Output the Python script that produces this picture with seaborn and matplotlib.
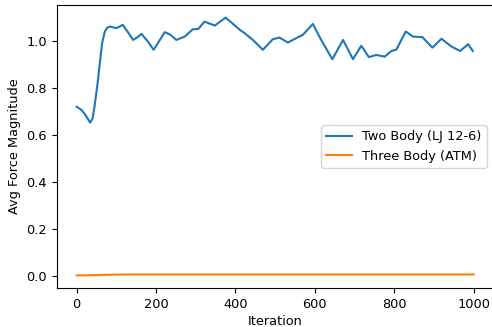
import matplotlib
matplotlib.use("Agg")
import matplotlib.pyplot as plt
import seaborn as sns
import pandas as pd

iters_two = [0, 12, 22, 34, 40, 45, 52, 58, 64, 71, 77, 83, 100, 116, 130, 142, 153, 163, 178, 194, 208, 222, 237, 251, 272, 293, 306, 322, 348, 375, 392, 411, 423, 444, 469, 494, 511, 532, 570, 595, 616, 644, 671, 696, 717, 736, 755, 776, 793, 805, 829, 847, 871, 896, 919, 944, 966, 986, 998]
vals_two = [0.72, 0.706, 0.685, 0.652, 0.67, 0.72, 0.81, 0.90, 0.99, 1.040, 1.056, 1.061, 1.054, 1.068, 1.035, 1.004, 1.015, 1.03, 1.0, 0.962, 1.0, 1.037, 1.025, 1.004, 1.018, 1.05, 1.05, 1.082, 1.065, 1.099, 1.075, 1.047, 1.033, 1.004, 0.962, 1.007, 1.014, 0.993, 1.026, 1.072, 1.004, 0.922, 1.004, 0.922, 0.979, 0.931, 0.94, 0.933, 0.957, 0.962, 1.04, 1.018, 1.016, 0.971, 1.009, 0.976, 0.957, 0.986, 0.957]

iters_three = [0, 40, 80, 120, 200, 400, 600, 800, 1000]
vals_three = [0.002, 0.003, 0.005, 0.006, 0.006, 0.006, 0.006, 0.006, 0.006]

labels = ["Two Body (LJ 12-6)", "Three Body (ATM)"]

df = pd.concat([
    pd.DataFrame({"Iteration": iters_two, "Value": vals_two, "Series": labels[0]}),
    pd.DataFrame({"Iteration": iters_three, "Value": vals_three, "Series": labels[1]}),
])

plt.rcParams["font.size"] = 9.3

fig, ax = plt.subplots(figsize=(4.92, 3.27), dpi=100)
sns.lineplot(data=df, x="Iteration", y="Value", hue="Series",
             palette=["#1f77b4", "#ff7f0e"], ax=ax, linewidth=1.5)
ax.set_xlabel("Iteration", labelpad=3)
ax.set_ylabel("Avg Force Magnitude")
ax.legend(title=None, loc="center right")
fig.subplots_adjust(left=0.1155, right=1.003, top=0.9856, bottom=0.1183)
fig.savefig("out.png", dpi=100)
